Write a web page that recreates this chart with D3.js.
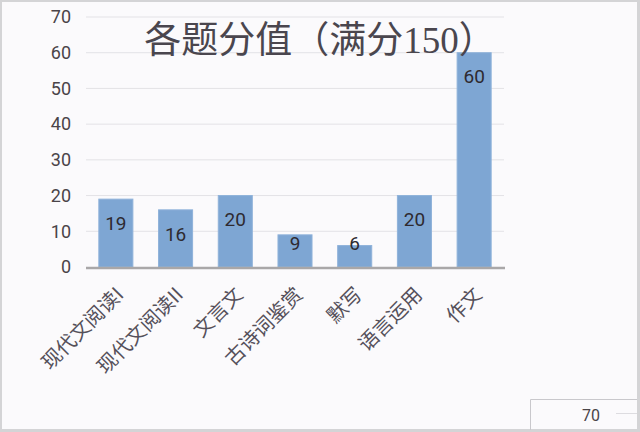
<!DOCTYPE html>
<html>
<head>
<meta charset="utf-8">
<script src="https://cdn.jsdelivr.net/npm/d3@7"></script>
<style>
  html, body { margin: 0; padding: 0; background: #d4d4d6; }
  svg { display: block; }
</style>
</head>
<body>
<svg id="chart" width="640" height="432"></svg>
<script>
  // chart values
  var categories = ['现代文阅读I', '现代文阅读II', '文言文', '古诗词鉴赏', '默写', '语言运用', '作文'];
  var scores = [19, 16, 20, 9, 6, 20, 60];
  var yTicks = [0, 10, 20, 30, 40, 50, 60, 70];
  var titleText = '各题分值（满分150）';
  var cornerLabel = '70';

  var svg = d3.select('#chart');

  /* page background with the grey frame around it */
  svg.append('rect')
    .attr('x', 2).attr('y', 2)
    .attr('width', 635).attr('height', 427)
    .attr('fill', '#fbfafc');

  var plot = { left: 86, right: 504, top: 17, bottom: 267 };

  var x = d3.scaleBand()
    .domain(categories)
    .range([plot.left, plot.right])
    .paddingInner(0.43)
    .paddingOuter(0.215);

  var y = d3.scaleLinear()
    .domain([0, 70])
    .range([plot.bottom, plot.top]);

  /* grid */
  svg.append('g')
    .selectAll('line')
    .data(yTicks.filter(function(d) { return d > 0; }))
    .enter().append('line')
      .attr('x1', plot.left).attr('x2', plot.right)
      .attr('y1', function(d) { return y(d); })
      .attr('y2', function(d) { return y(d); })
      .attr('stroke', '#e3e2e6')
      .attr('stroke-width', 1);

  /* y axis labels */
  var yAxis = d3.axisLeft(y).tickValues(yTicks).tickSize(0).tickPadding(0);
  var gY = svg.append('g')
    .attr('transform', 'translate(71,0)')
    .call(yAxis);
  gY.select('.domain').remove();
  gY.selectAll('text')
    .attr('font-family', 'Roboto, "Open Sans", sans-serif')
    .attr('font-size', 18)
    .attr('fill', '#4a4448');

  /* bars */
  svg.append('g')
    .selectAll('rect')
    .data(scores)
    .enter().append('rect')
      .attr('x', function(d, i) { return x(categories[i]); })
      .attr('y', function(d) { return y(d); })
      .attr('width', x.bandwidth())
      .attr('height', function(d) { return y(0) - y(d); })
      .attr('fill', '#7ea6d3')
      .attr('stroke', '#8fb2da')
      .attr('stroke-width', 1);

  /* value labels */
  svg.append('g')
    .selectAll('text')
    .data(scores)
    .enter().append('text')
      .attr('x', function(d, i) { return x(categories[i]) + x.bandwidth() / 2; })
      .attr('y', function(d) { return Math.min(y(d) + 24, y(0) - 24); })
      .attr('dy', '0.35em')
      .attr('text-anchor', 'middle')
      .attr('font-family', 'Roboto, "Open Sans", sans-serif')
      .attr('font-size', 19)
      .attr('fill', '#2e2a30')
      .text(function(d) { return d; });

  /* x axis line */
  svg.append('line')
    .attr('x1', plot.left).attr('x2', plot.right + 1)
    .attr('y1', y(0) + 1).attr('y2', y(0) + 1)
    .attr('stroke', '#a9a7a8')
    .attr('stroke-width', 2.5);

  /* category labels, rotated */
  svg.append('g')
    .selectAll('text')
    .data(categories)
    .enter().append('text')
      .attr('transform', function(d) {
        var cx = x(d) + x.bandwidth() / 2 + 4;
        return 'translate(' + cx + ',' + 291 + ') rotate(-45)';
      })
      .attr('dy', '0.35em')
      .attr('text-anchor', 'end')
      .attr('font-family', '"Noto Sans CJK SC", sans-serif')
      .attr('font-size', 20)
      .attr('fill', '#55505a')
      .text(function(d) { return d; });

  /* title */
  svg.append('text')
    .attr('x', 320)
    .attr('y', 40)
    .attr('dy', '0.35em')
    .attr('text-anchor', 'middle')
    .attr('font-family', '"Liberation Serif", "Noto Sans CJK SC", serif')
    .attr('font-size', 37)
    .attr('fill', '#4a464e')
    .text(titleText);

  /* bottom-right cell */
  svg.append('path')
    .attr('d', 'M530.5,430 V399.5 H637')
    .attr('fill', 'none')
    .attr('stroke', '#c9c8cc')
    .attr('stroke-width', 1);
  svg.append('line')
    .attr('x1', 616).attr('x2', 637)
    .attr('y1', 413.5).attr('y2', 413.5)
    .attr('stroke', '#dddce0');
  svg.append('text')
    .attr('x', 591)
    .attr('y', 415)
    .attr('dy', '0.35em')
    .attr('text-anchor', 'middle')
    .attr('font-family', 'Roboto, "Open Sans", sans-serif')
    .attr('font-size', 16)
    .attr('fill', '#4a4448')
    .text(cornerLabel);
</script>
</body>
</html>
